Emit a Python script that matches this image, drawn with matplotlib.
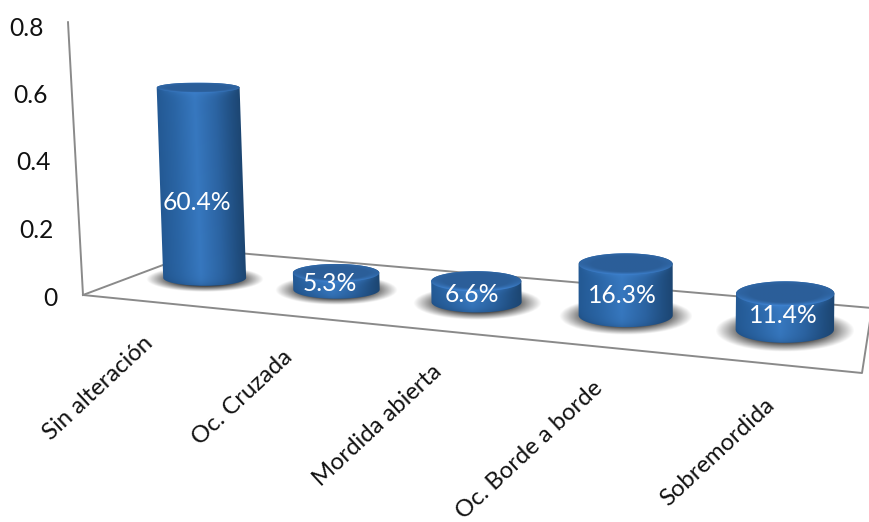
import numpy as np
import matplotlib
matplotlib.use("Agg")
import matplotlib.pyplot as plt
from matplotlib.path import Path
from matplotlib.patches import PathPatch

categories = ["Sin alteración", "Oc. Cruzada", "Mordida abierta", "Oc. Borde a borde", "Sobremordida"]
values = [0.604, 0.053, 0.066, 0.163, 0.114]
value_labels = ["60.4%", "5.3%", "6.6%", "16.3%", "11.4%"]
y_ticks = [0, 0.2, 0.4, 0.6, 0.8]
y_tick_labels = ["0", "0.2", "0.4", "0.6", "0.8"]

W, H = 869, 522
FONT = "Lato"
FS = 17.7
FS_CAT = 17.2
LINE = "#8a8a8a"

# Floor plane corners on the canvas: front-left, front-right, back-right, back-left
x0, y0 = 83, 295
x1, y1 = 862, 373
x2, y2 = 872, 308
x3, y3 = 203, 250

dx1, dx2, sx = x1 - x2, x3 - x2, x0 - x1 + x2 - x3
dy1, dy2, sy = y1 - y2, y3 - y2, y0 - y1 + y2 - y3
den = dx1 * dy2 - dx2 * dy1
g = (sx * dy2 - dx2 * sy) / den
h = (dx1 * sy - sx * dy1) / den
A, B, C = x1 - x0 + g * x1, x3 - x0 + h * x3, x0
D, E, F = y1 - y0 + g * y1, y3 - y0 + h * y3, y0


def floor(u, v):
    """Perspective projection of floor coordinates (u along categories, v in depth)."""
    w = g * u + h * v + 1
    return (A * u + B * v + C) / w, (D * u + E * v + F) / w, w


CYL_PX = 315       # canvas pixels per unit of value on the cylinders
AXIS_PX = 341      # canvas pixels per unit of value on the wall edge
HORIZON = 507      # height above the floor where ellipses collapse
VANISH_X, VANISH_D = 650, 13000


def lean(x, height):
    return (x - VANISH_X) / VANISH_D * height


fig = plt.figure(figsize=(W / 100, H / 100), dpi=100, facecolor="white")
ax = fig.add_axes([0, 0, 1, 1])
ax.axis("off")

# Floor outline and value axis
ax.plot([x0, x1, x2], [y0, y1, y2], color=LINE, lw=1.4, zorder=1)
ax.plot([x0, x3, x2], [y0, y3, y2], color=LINE, lw=1.4, zorder=1)
ax.plot([x0, 68], [y0, y0 - AXIS_PX * y_ticks[-1]], color=LINE, lw=1.4, zorder=1)

for tick, text in zip(y_ticks, y_tick_labels):
    ax.text(57 - 16 * tick, 296 - 337.5 * tick, text, ha="right", va="center_baseline",
            family=FONT, fontsize=FS, color="#111111")


def ellipse_xy(cx, cy, a, b, t):
    return cx + a * np.cos(t), cy + b * np.sin(t)


def gradient_image(extent, rgb, alpha=None, z=3, clip=None):
    rgba = np.dstack([rgb, np.ones(rgb.shape[:2]) if alpha is None else alpha])
    im = ax.imshow(np.clip(rgba, 0, 1), extent=extent, origin="upper", aspect="auto",
                   interpolation="bilinear", zorder=z)
    if clip is not None:
        patch = PathPatch(clip, transform=ax.transData, fc="none", ec="none")
        ax.add_patch(patch)
        im.set_clip_path(patch)
    return im


# Shading stops across the cylinder, from its left edge to its right edge
STOPS = [-1.0, -0.6, -0.1, 0.4, 0.8, 1.0]
STOP_RGB = np.array([[0.14, 0.35, 0.58], [0.165, 0.395, 0.645], [0.215, 0.47, 0.75],
                     [0.17, 0.39, 0.635], [0.125, 0.305, 0.50], [0.11, 0.27, 0.44]])
DARK = np.array([0.11, 0.28, 0.47])
CAP = np.array([0.17, 0.37, 0.60])
RIM = np.array([0.25, 0.52, 0.83])


def blend(c1, c2, t):
    t = t[..., None]
    return c1 * (1 - t) + c2 * t


def draw_cylinder(i, value):
    u = (i + 0.5) / len(values)
    cx, cy, w = floor(u, 0.5)
    cx += 7 * u - 6
    cy += 1.5 - 2 * u
    a = (44 + 2.5 * u) / w
    b = 8 + 0.0091 * (cx - 205)
    height = value * CYL_PX
    tx, ty = cx + lean(cx, height), cy - height
    bt = b * (1 - height / HORIZON)

    # Soft contact shadow
    sa, sb = a * 1.42, b * 1.6
    xs = np.linspace(cx - sa, cx + sa, 160)
    ys = np.linspace(cy + 1 - sb, cy + 1 + sb, 70)
    gx, gy = np.meshgrid(xs, ys)
    r = np.hypot((gx - cx) / sa, (gy - cy - 1) / sb)
    shade = 0.85 * np.clip((1 - r) / 0.5, 0, 1)
    gradient_image((xs[0], xs[-1], ys[-1], ys[0]), np.zeros(r.shape + (3,)), shade, z=2)

    # Side surface: round shading across, darker toward the foot
    t_low = np.linspace(np.pi, 0, 60)
    t_top = np.linspace(0, -np.pi, 60)
    bx, by = ellipse_xy(cx, cy, a, b, t_low)
    ux, uy = ellipse_xy(tx, ty, a, bt, t_top)
    body = Path(np.r_[np.c_[bx, by], np.c_[ux, uy], [[bx[0], by[0]]]])
    left, right = min(cx, tx) - a - 1, max(cx, tx) + a + 1
    top, bottom = ty - bt - 1, cy + b + 1
    xs = np.linspace(left, right, 240)
    ys = np.linspace(top, bottom, max(30, int(bottom - top) * 2))
    gx, gy = np.meshgrid(xs, ys)
    frac = (gy - ty) / max(cy - ty, 1)
    centre = tx + (cx - tx) * np.clip(frac, 0, 1)
    n = np.clip((gx - centre) / a, -1, 1)
    colour = np.dstack([np.interp(n, STOPS, STOP_RGB[:, k]) for k in range(3)])
    # Bevel glow just below the upper rim, dark band along the foot
    front_top = ty + bt * np.sqrt(1 - n ** 2)
    front_low = cy + b * np.sqrt(1 - n ** 2)
    glow = np.exp(-np.clip(gy - front_top, 0, None) / 3.0) * (1 - n ** 2) * 0.55
    colour = blend(colour, RIM, np.clip(glow, 0, 1))
    foot = np.exp(-np.clip(front_low - gy, 0, None) / 4.0) * 0.4
    colour = blend(colour, DARK, np.clip(foot, 0, 1))
    gradient_image((left, right, bottom, top), colour, z=3, clip=body)

    # Top cap with a lit front bevel
    t = np.linspace(0, 2 * np.pi, 120)
    ex, ey = ellipse_xy(tx, ty, a, bt, t)
    cap = Path(np.c_[ex, ey])
    xs = np.linspace(tx - a, tx + a, 200)
    ys = np.linspace(ty - bt, ty + bt, 60)
    gx, gy = np.meshgrid(xs, ys)
    nx, ny = (gx - tx) / a, (gy - ty) / bt
    rr = np.hypot(nx, ny)
    bevel = np.clip((rr - 0.72) / 0.28, 0, 1) * (0.2 + 0.8 * np.clip(ny, 0, 1))
    gradient_image((xs[0], xs[-1], ys[-1], ys[0]), blend(CAP, RIM, bevel), z=4, clip=cap)

    # Value caption
    ax.text(cx - 9 + 8 * u, cy - 0.4 * height + 0.5, value_labels[i], ha="center", va="center",
            family=FONT, fontsize=FS, color="white", zorder=6)


for i, value in enumerate(values):
    draw_cylinder(i, value)

# Slanted category captions under the front edge
for i, name in enumerate(categories):
    fx, fy, _ = floor((i + 0.5) / len(categories), 0.0)
    ax.text(fx, fy + 38, name, rotation=43, rotation_mode="anchor", ha="right", va="center",
            family=FONT, fontsize=FS_CAT, color="#111111", clip_on=False)

ax.set_xlim(0, W)
ax.set_ylim(H, 0)
fig.savefig("out.png", dpi=100, facecolor="white")
